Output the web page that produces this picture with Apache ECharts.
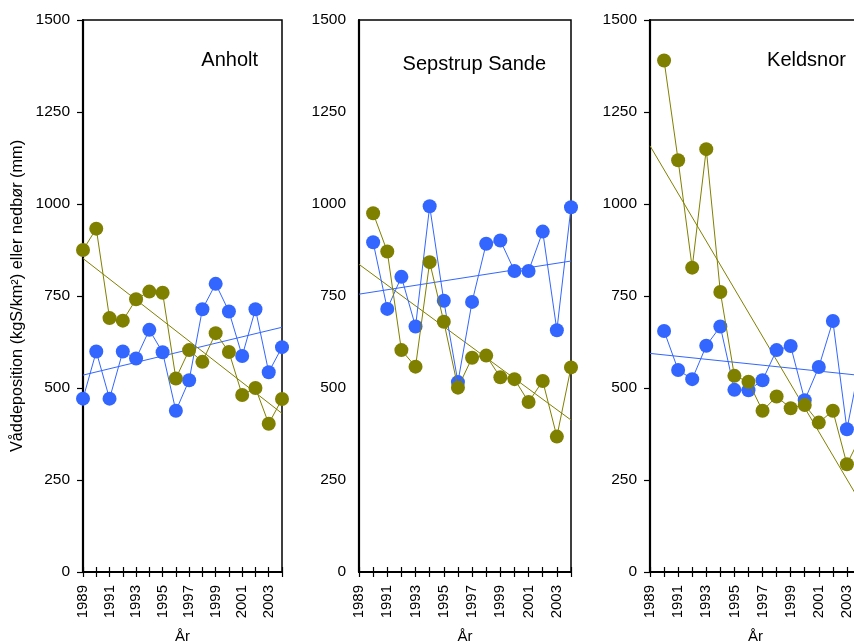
<!DOCTYPE html>
<html><head><meta charset="utf-8">
<script src="https://cdn.jsdelivr.net/npm/echarts@6/dist/echarts.min.js"></script>
<style>html,body{margin:0;padding:0;background:#fff}#c{width:854px;height:641px}</style>
</head><body><div id="c"></div><script>
// ---- data ----
const yearsA = [1989,1990,1991,1992,1993,1994,1995,1996,1997,1998,1999,2000,2001,2002,2003,2004];
const yearsB = [1990,1991,1992,1993,1994,1995,1996,1997,1998,1999,2000,2001,2002,2003,2004];

const anholtDep   = [471,599,471,599,580,658,597,438,521,714,783,708,587,714,543,611];
const anholtRain  = [875,933,690,683,741,762,759,526,603,571,649,598,481,500,403,470];
const anholtDepTrend  = [535,665];
const anholtRainTrend = [852,431];

const sepstrupDep  = [896,715,802,667,994,737,516,734,892,901,818,818,925,657,991];
const sepstrupRain = [975,871,603,558,842,680,501,582,588,529,524,462,519,368,556];
const sepstrupDepTrend  = [755,845];
const sepstrupRainTrend = [836,413];

const keldsnorDep  = [655,549,524,615,667,495,494,521,603,614,467,557,682,388,582];
const keldsnorRain = [1390,1119,827,1149,761,533,517,438,477,445,454,406,438,293,370];
const keldsnorDepTrend  = [594,534];
const keldsnorRainTrend = [1158,187];

const trendYears = [1989,2004];
const panelTitles = ['Anholt','Sepstrup Sande','Keldsnor'];

// ---- style ----
const BLUE = '#3366ff', OLIVE = '#808000';
const FONT = '"Liberation Sans", Arial, Helvetica, sans-serif';
const pair = (xs, ys) => xs.map((x,i)=>[x,ys[i]]);

const grids = [
  {left:83, top:20, width:199, height:552},
  {left:359, top:20, width:212, height:552},
  {left:650, top:20, width:211, height:552}
];

const panels = [
  {years:yearsA, dep:anholtDep, rain:anholtRain, dt:anholtDepTrend, rt:anholtRainTrend, ticks:true},
  {years:yearsB, dep:sepstrupDep, rain:sepstrupRain, dt:sepstrupDepTrend, rt:sepstrupRainTrend, ticks:false},
  {years:yearsB, dep:keldsnorDep, rain:keldsnorRain, dt:keldsnorDepTrend, rt:keldsnorRainTrend, ticks:true}
];

const xAxes = [], yAxes = [], series = [], gridOpts = [];
panels.forEach((p,i)=>{
  gridOpts.push(Object.assign({show:true, borderColor:'#000', borderWidth:1.5, backgroundColor:'transparent',
    containLabel:false, outerBoundsMode:'none'}, grids[i]));
  xAxes.push({
    type:'value', gridIndex:i, min:1989, max:2004, interval:1, position:'bottom',
    axisLine:{show:true, onZero:false, lineStyle:{color:'#000', width:2.2}},
    axisTick:{show:true, length:5, lineStyle:{color:'#000', width:1.2}},
    splitLine:{show:false},
    axisLabel:{rotate:90, margin:13, color:'#000', fontSize:15, fontFamily:FONT,
      formatter:v=> (v%2===1 ? String(v) : '')},
    name:'År', nameLocation:'middle', nameGap:57,
    nameTextStyle:{color:'#000', fontSize:15, fontFamily:FONT}
  });
  yAxes.push({
    type:'value', gridIndex:i, min:0, max:1500, interval:250,
    axisLine:{show:true, onZero:false, lineStyle:{color:'#000', width:2.2}},
    axisTick:{show:p.ticks, length:6, lineStyle:{color:'#000', width:1.2}},
    splitLine:{show:false},
    axisLabel:{margin:13, color:'#000', fontSize:15.5, fontFamily:FONT, formatter:v=>String(v)},
    name: i===0 ? 'Våddeposition (kgS/km²) eller nedbør (mm)' : '',
    nameLocation:'middle', nameGap:57, nameRotate:90,
    nameTextStyle:{color:'#000', fontSize:16.3, fontFamily:FONT}
  });
});
// inward halves of the crossing x ticks
panels.forEach((p,i)=>{
  xAxes.push({
    type:'value', gridIndex:i, min:1989, max:2004, interval:1, position:'bottom',
    axisLine:{show:false}, axisLabel:{show:false}, splitLine:{show:false},
    axisTick:{show:true, inside:true, length:5, lineStyle:{color:'#000', width:1.2}}
  });
});

panels.forEach((p,i)=>{
  const base = {xAxisIndex:i, yAxisIndex:i, animation:false};
  series.push(Object.assign({type:'line', data:pair(trendYears,p.dt), symbol:'none',
    lineStyle:{color:BLUE, width:1}, z:2}, base));
  series.push(Object.assign({type:'line', data:pair(trendYears,p.rt), symbol:'none',
    lineStyle:{color:OLIVE, width:1}, z:2}, base));
  series.push(Object.assign({type:'line', data:pair(p.years,p.dep), symbol:'circle', symbolSize:14,
    itemStyle:{color:BLUE}, lineStyle:{color:BLUE, width:1}, z:3}, base));
  series.push(Object.assign({type:'line', data:pair(p.years,p.rain), symbol:'circle', symbolSize:14,
    itemStyle:{color:OLIVE}, lineStyle:{color:OLIVE, width:1}, z:4}, base));
});

const titlePos = [{right:854-258, top:50}, {right:854-546, top:54}, {right:854-846, top:50}];
const titles = panelTitles.map((t,i)=>({text:t, right:titlePos[i].right, top:titlePos[i].top,
  textStyle:{color:'#000', fontSize:20, fontWeight:'normal', fontFamily:FONT}, padding:0}));

const chart = echarts.init(document.getElementById('c'), null, {renderer:'canvas'});
chart.setOption({
  animation:false,
  backgroundColor:'#fff',
  title:titles,
  grid:gridOpts,
  xAxis:xAxes,
  yAxis:yAxes,
  series:series
});
</script></body></html>
